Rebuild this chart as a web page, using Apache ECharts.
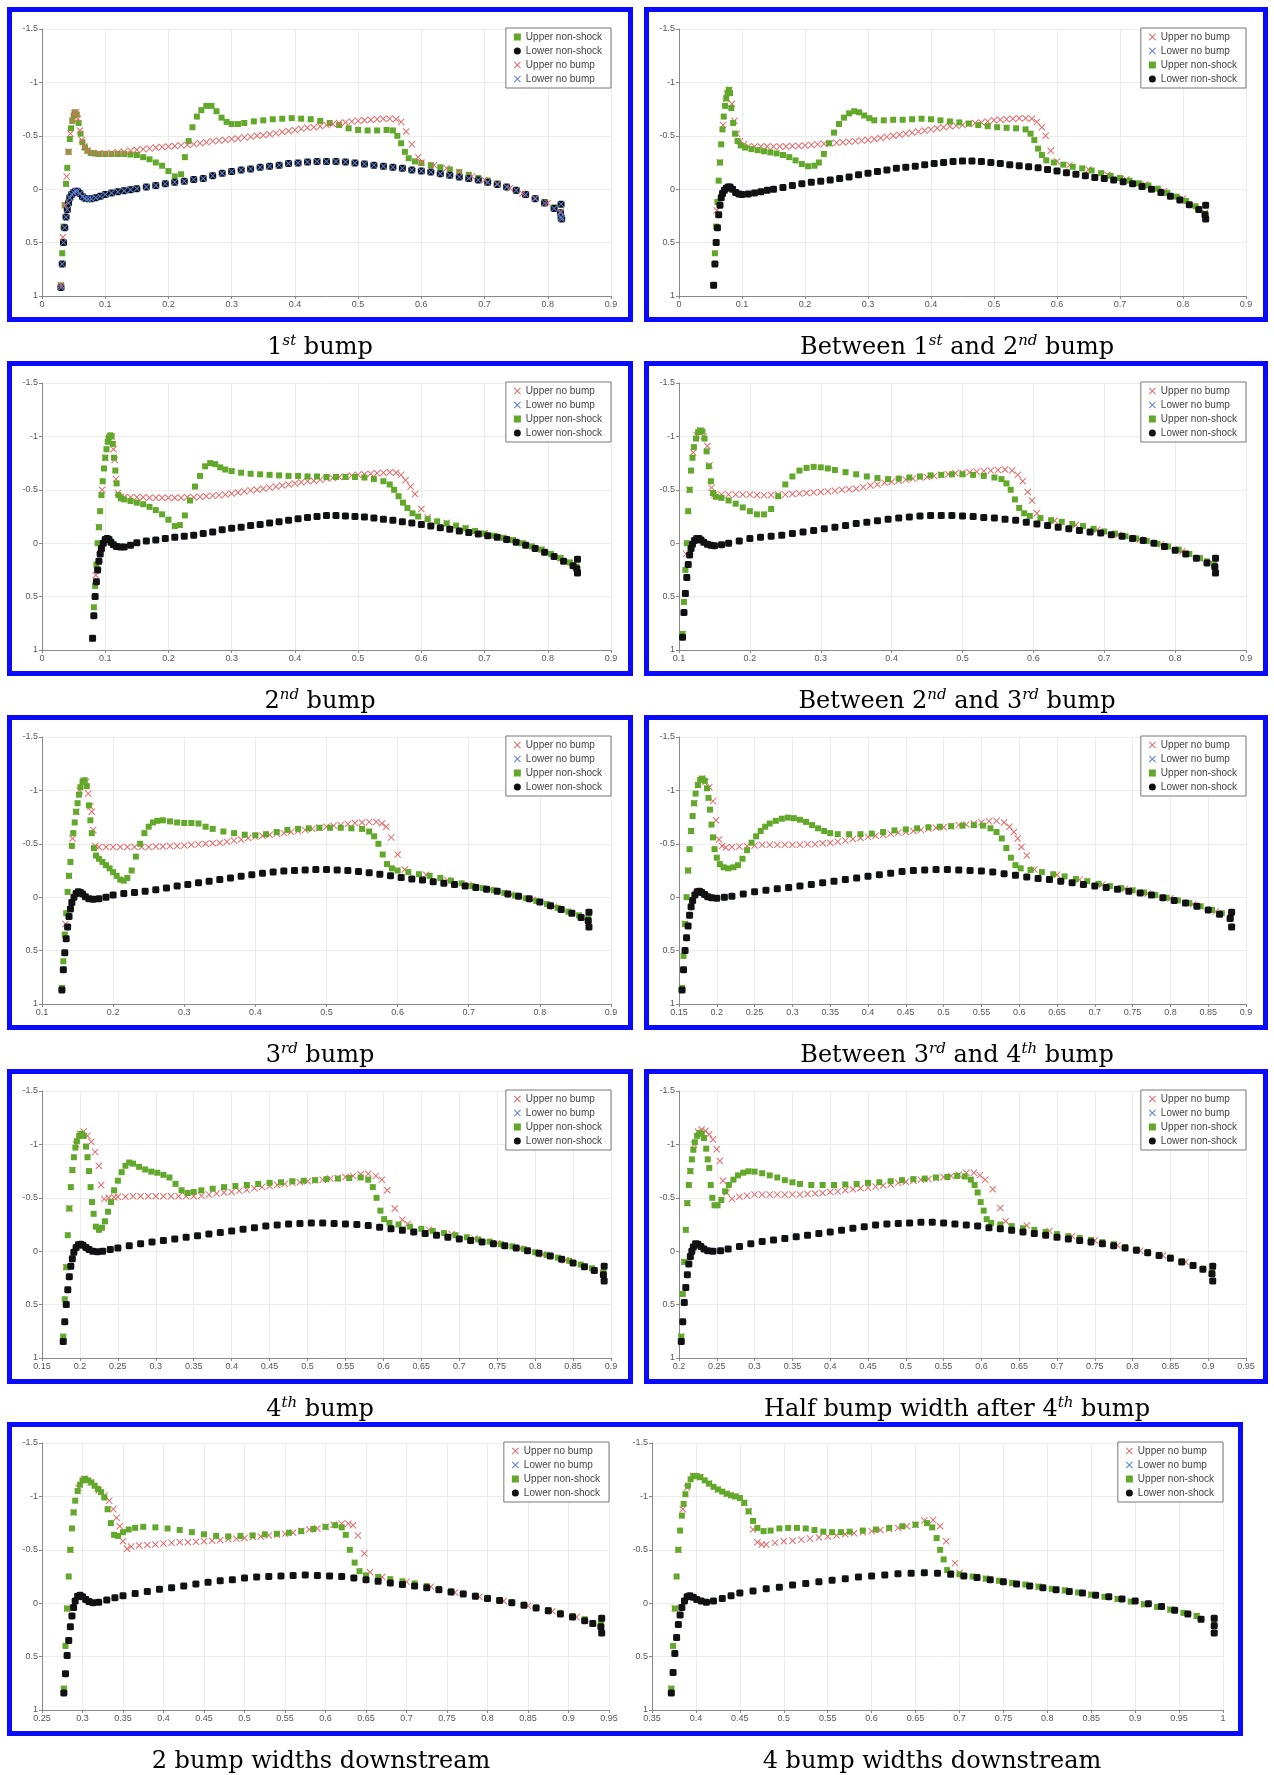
<!DOCTYPE html>
<html>
<head>
<meta charset="utf-8">
<script src="https://cdn.jsdelivr.net/npm/echarts@6/dist/echarts.min.js"></script>
<style>
html,body{margin:0;padding:0;background:#fff;}
#chart{width:1274px;height:1775px;}
</style>
</head>
<body>
<div id="chart"></div>
<script>
// Cp distributions, [x, Cp]. Lower "no bump" sits exactly
// under the lower "non-shock" points in every panel, so it reuses the same list.

// ---- 1st bump
var upperNonShock1 = [[0.030,0.9],[0.032,0.6],[0.034,0.35],[0.036,0.15],[0.038,-0.05],[0.040,-0.2],[0.042,-0.35],[0.044,-0.47],[0.046,-0.57],[0.048,-0.64],[0.050,-0.69],[0.052,-0.72],[0.055,-0.7],[0.058,-0.62],[0.061,-0.52],[0.064,-0.44],[0.068,-0.39],[0.072,-0.36],[0.077,-0.34],[0.083,-0.335],[0.09,-0.33],[0.10,-0.33],[0.11,-0.33],[0.12,-0.33],[0.13,-0.33],[0.14,-0.325],[0.15,-0.32],[0.16,-0.3],[0.17,-0.28],[0.18,-0.25],[0.19,-0.22],[0.20,-0.17],[0.21,-0.12],[0.22,-0.14],[0.226,-0.3],[0.232,-0.45],[0.238,-0.58],[0.245,-0.68],[0.252,-0.74],[0.26,-0.78],[0.268,-0.78],[0.276,-0.73],[0.284,-0.67],[0.292,-0.63],[0.30,-0.61],[0.31,-0.61],[0.32,-0.62],[0.335,-0.635],[0.35,-0.645],[0.365,-0.655],[0.38,-0.66],[0.395,-0.665],[0.41,-0.66],[0.425,-0.655],[0.44,-0.64],[0.455,-0.62],[0.47,-0.6],[0.485,-0.57],[0.50,-0.555],[0.515,-0.55],[0.53,-0.55],[0.545,-0.555],[0.555,-0.55],[0.562,-0.5],[0.568,-0.43],[0.574,-0.35],[0.58,-0.29],[0.59,-0.26],[0.60,-0.245],[0.615,-0.225],[0.63,-0.205],[0.645,-0.185],[0.66,-0.16],[0.675,-0.135],[0.69,-0.105],[0.705,-0.08],[0.72,-0.055],[0.735,-0.02],[0.75,0.015],[0.765,0.05],[0.78,0.085],[0.795,0.12],[0.81,0.17],[0.82,0.22]];
var lowerNonShock1 = [[0.030,0.92],[0.032,0.7],[0.034,0.5],[0.036,0.36],[0.038,0.26],[0.040,0.19],[0.042,0.13],[0.044,0.08],[0.047,0.05],[0.050,0.03],[0.053,0.02],[0.056,0.02],[0.060,0.04],[0.064,0.07],[0.068,0.085],[0.073,0.09],[0.078,0.09],[0.085,0.08],[0.092,0.065],[0.10,0.05],[0.11,0.035],[0.12,0.025],[0.13,0.015],[0.14,0.005],[0.15,-0.005],[0.165,-0.02],[0.18,-0.035],[0.195,-0.05],[0.21,-0.065],[0.225,-0.075],[0.24,-0.09],[0.255,-0.1],[0.27,-0.125],[0.285,-0.15],[0.30,-0.165],[0.315,-0.18],[0.33,-0.19],[0.345,-0.205],[0.36,-0.215],[0.375,-0.225],[0.39,-0.24],[0.405,-0.245],[0.42,-0.255],[0.435,-0.26],[0.45,-0.26],[0.465,-0.26],[0.48,-0.255],[0.495,-0.245],[0.51,-0.235],[0.525,-0.225],[0.54,-0.215],[0.555,-0.205],[0.57,-0.195],[0.585,-0.18],[0.60,-0.17],[0.615,-0.16],[0.63,-0.145],[0.645,-0.13],[0.66,-0.115],[0.675,-0.1],[0.69,-0.085],[0.705,-0.065],[0.72,-0.045],[0.735,-0.02],[0.75,0.01],[0.765,0.05],[0.78,0.09],[0.795,0.13],[0.81,0.18],[0.82,0.22],[0.821,0.14],[0.821,0.26],[0.822,0.28]];
var upperNoBump1 = [[0.030,0.9],[0.033,0.45],[0.036,0.15],[0.039,-0.12],[0.042,-0.35],[0.045,-0.52],[0.048,-0.64],[0.051,-0.71],[0.054,-0.72],[0.057,-0.66],[0.060,-0.55],[0.063,-0.46],[0.067,-0.4],[0.072,-0.36],[0.08,-0.34],[0.09,-0.335],[0.10,-0.335],[0.11,-0.34],[0.12,-0.345],[0.13,-0.35],[0.14,-0.36],[0.15,-0.37],[0.16,-0.375],[0.17,-0.38],[0.18,-0.39],[0.19,-0.395],[0.20,-0.4],[0.21,-0.405],[0.22,-0.41],[0.23,-0.415],[0.24,-0.42],[0.25,-0.43],[0.26,-0.44],[0.27,-0.45],[0.28,-0.455],[0.29,-0.46],[0.30,-0.47],[0.31,-0.475],[0.32,-0.485],[0.33,-0.49],[0.34,-0.5],[0.35,-0.505],[0.36,-0.515],[0.37,-0.525],[0.38,-0.535],[0.39,-0.545],[0.40,-0.555],[0.41,-0.565],[0.42,-0.575],[0.43,-0.58],[0.44,-0.59],[0.45,-0.6],[0.46,-0.61],[0.47,-0.62],[0.48,-0.625],[0.49,-0.635],[0.50,-0.64],[0.51,-0.645],[0.52,-0.65],[0.53,-0.655],[0.54,-0.66],[0.55,-0.66],[0.56,-0.655],[0.568,-0.63],[0.576,-0.54],[0.585,-0.42],[0.595,-0.3],[0.60,-0.25],[0.62,-0.225],[0.64,-0.195],[0.66,-0.16],[0.68,-0.12],[0.70,-0.085],[0.72,-0.05],[0.74,-0.01],[0.76,0.04],[0.78,0.085],[0.80,0.13],[0.82,0.21]];
var lowerNoBump1 = lowerNonShock1;

// ---- between 1st and 2nd bump
var upperNonShock2 = [[0.055,0.9],[0.057,0.6],[0.059,0.35],[0.061,0.12],[0.063,-0.08],[0.065,-0.25],[0.067,-0.42],[0.069,-0.56],[0.071,-0.68],[0.073,-0.78],[0.075,-0.85],[0.077,-0.9],[0.079,-0.93],[0.081,-0.9],[0.083,-0.76],[0.086,-0.62],[0.089,-0.52],[0.093,-0.45],[0.098,-0.41],[0.105,-0.39],[0.115,-0.375],[0.125,-0.365],[0.135,-0.355],[0.145,-0.345],[0.155,-0.335],[0.165,-0.32],[0.175,-0.3],[0.185,-0.27],[0.195,-0.235],[0.205,-0.215],[0.215,-0.22],[0.222,-0.25],[0.23,-0.33],[0.238,-0.43],[0.246,-0.53],[0.254,-0.61],[0.262,-0.67],[0.27,-0.71],[0.278,-0.73],[0.286,-0.72],[0.294,-0.69],[0.302,-0.665],[0.31,-0.645],[0.325,-0.645],[0.34,-0.65],[0.355,-0.65],[0.37,-0.655],[0.385,-0.66],[0.40,-0.655],[0.415,-0.645],[0.43,-0.635],[0.445,-0.625],[0.46,-0.615],[0.475,-0.6],[0.49,-0.59],[0.505,-0.58],[0.52,-0.575],[0.535,-0.57],[0.55,-0.56],[0.558,-0.52],[0.564,-0.46],[0.57,-0.38],[0.576,-0.32],[0.583,-0.27],[0.595,-0.25],[0.61,-0.23],[0.625,-0.21],[0.64,-0.195],[0.655,-0.175],[0.67,-0.15],[0.685,-0.125],[0.70,-0.105],[0.715,-0.08],[0.73,-0.055],[0.745,-0.035],[0.76,-0.005],[0.775,0.035],[0.79,0.07],[0.805,0.11],[0.82,0.16],[0.835,0.23]];
var lowerNonShock2 = [[0.055,0.9],[0.057,0.7],[0.059,0.5],[0.061,0.36],[0.063,0.24],[0.065,0.15],[0.067,0.08],[0.069,0.04],[0.072,0.01],[0.075,-0.01],[0.078,-0.02],[0.081,-0.02],[0.085,0.0],[0.09,0.03],[0.095,0.045],[0.10,0.05],[0.11,0.045],[0.12,0.035],[0.13,0.025],[0.14,0.01],[0.15,0.0],[0.165,-0.015],[0.18,-0.035],[0.195,-0.05],[0.21,-0.065],[0.225,-0.075],[0.24,-0.085],[0.255,-0.1],[0.27,-0.115],[0.285,-0.135],[0.30,-0.15],[0.315,-0.165],[0.33,-0.18],[0.345,-0.195],[0.36,-0.205],[0.375,-0.215],[0.39,-0.23],[0.405,-0.24],[0.42,-0.25],[0.435,-0.26],[0.45,-0.265],[0.465,-0.265],[0.48,-0.26],[0.495,-0.25],[0.51,-0.24],[0.525,-0.23],[0.54,-0.22],[0.555,-0.21],[0.57,-0.2],[0.585,-0.185],[0.60,-0.17],[0.615,-0.155],[0.63,-0.14],[0.645,-0.125],[0.66,-0.11],[0.675,-0.1],[0.69,-0.085],[0.705,-0.07],[0.72,-0.05],[0.735,-0.025],[0.75,0.0],[0.765,0.03],[0.78,0.065],[0.795,0.1],[0.81,0.145],[0.825,0.19],[0.835,0.24],[0.836,0.15],[0.836,0.28]];
var upperNoBump2 = [[0.055,0.9],[0.06,0.2],[0.065,-0.25],[0.07,-0.6],[0.075,-0.85],[0.08,-0.93],[0.084,-0.8],[0.088,-0.64],[0.092,-0.52],[0.097,-0.45],[0.103,-0.42],[0.11,-0.4],[0.12,-0.4],[0.13,-0.4],[0.14,-0.4],[0.15,-0.4],[0.16,-0.4],[0.17,-0.4],[0.18,-0.405],[0.19,-0.405],[0.20,-0.41],[0.21,-0.415],[0.22,-0.42],[0.23,-0.425],[0.24,-0.43],[0.25,-0.435],[0.26,-0.44],[0.27,-0.445],[0.28,-0.45],[0.29,-0.455],[0.30,-0.46],[0.31,-0.47],[0.32,-0.48],[0.33,-0.49],[0.34,-0.5],[0.35,-0.51],[0.36,-0.52],[0.37,-0.53],[0.38,-0.54],[0.39,-0.55],[0.40,-0.56],[0.41,-0.57],[0.42,-0.58],[0.43,-0.59],[0.44,-0.595],[0.45,-0.6],[0.46,-0.61],[0.47,-0.62],[0.48,-0.625],[0.49,-0.635],[0.50,-0.645],[0.51,-0.65],[0.52,-0.655],[0.53,-0.66],[0.54,-0.665],[0.55,-0.665],[0.56,-0.66],[0.568,-0.63],[0.576,-0.58],[0.582,-0.5],[0.59,-0.36],[0.60,-0.26],[0.62,-0.225],[0.65,-0.185],[0.68,-0.135],[0.71,-0.09],[0.74,-0.045],[0.77,0.02],[0.80,0.09],[0.835,0.22]];
var lowerNoBump2 = lowerNonShock2;

// ---- 2nd bump
var upperNonShock3 = [[0.080,0.89],[0.082,0.6],[0.084,0.4],[0.086,0.2],[0.088,0.0],[0.090,-0.15],[0.092,-0.3],[0.094,-0.45],[0.096,-0.58],[0.098,-0.7],[0.100,-0.8],[0.102,-0.88],[0.104,-0.95],[0.106,-0.99],[0.108,-1.01],[0.110,-1.0],[0.112,-0.93],[0.114,-0.8],[0.116,-0.68],[0.118,-0.56],[0.121,-0.45],[0.125,-0.42],[0.13,-0.41],[0.14,-0.395],[0.15,-0.38],[0.16,-0.365],[0.17,-0.34],[0.18,-0.31],[0.19,-0.27],[0.20,-0.22],[0.21,-0.16],[0.218,-0.17],[0.226,-0.26],[0.234,-0.4],[0.242,-0.53],[0.25,-0.63],[0.258,-0.72],[0.266,-0.75],[0.274,-0.74],[0.282,-0.71],[0.29,-0.69],[0.30,-0.675],[0.315,-0.66],[0.33,-0.65],[0.345,-0.645],[0.36,-0.64],[0.375,-0.635],[0.39,-0.63],[0.405,-0.63],[0.42,-0.625],[0.435,-0.625],[0.45,-0.62],[0.465,-0.62],[0.48,-0.62],[0.495,-0.62],[0.51,-0.615],[0.525,-0.6],[0.54,-0.58],[0.55,-0.55],[0.557,-0.5],[0.564,-0.44],[0.571,-0.38],[0.578,-0.33],[0.586,-0.28],[0.595,-0.25],[0.61,-0.225],[0.625,-0.205],[0.64,-0.185],[0.655,-0.165],[0.67,-0.14],[0.685,-0.115],[0.70,-0.09],[0.715,-0.07],[0.73,-0.05],[0.745,-0.03],[0.76,0.0],[0.775,0.03],[0.79,0.06],[0.805,0.1],[0.82,0.14],[0.835,0.18],[0.845,0.22]];
var lowerNonShock3 = [[0.080,0.89],[0.082,0.68],[0.084,0.5],[0.086,0.36],[0.088,0.25],[0.090,0.17],[0.092,0.1],[0.094,0.05],[0.097,0.0],[0.100,-0.035],[0.103,-0.045],[0.106,-0.035],[0.109,-0.01],[0.113,0.015],[0.118,0.03],[0.124,0.035],[0.13,0.035],[0.14,0.02],[0.15,-0.005],[0.165,-0.02],[0.18,-0.03],[0.195,-0.045],[0.21,-0.055],[0.225,-0.065],[0.24,-0.075],[0.255,-0.09],[0.27,-0.105],[0.285,-0.125],[0.30,-0.14],[0.315,-0.15],[0.33,-0.165],[0.345,-0.175],[0.36,-0.19],[0.375,-0.2],[0.39,-0.215],[0.405,-0.23],[0.42,-0.24],[0.435,-0.25],[0.45,-0.26],[0.465,-0.26],[0.48,-0.255],[0.495,-0.25],[0.51,-0.245],[0.525,-0.235],[0.54,-0.225],[0.555,-0.215],[0.57,-0.2],[0.585,-0.19],[0.60,-0.175],[0.615,-0.16],[0.63,-0.145],[0.645,-0.13],[0.66,-0.115],[0.675,-0.1],[0.69,-0.085],[0.705,-0.07],[0.72,-0.055],[0.735,-0.035],[0.75,-0.01],[0.765,0.02],[0.78,0.05],[0.795,0.085],[0.81,0.125],[0.825,0.17],[0.84,0.21],[0.846,0.24],[0.847,0.15],[0.847,0.28]];
var upperNoBump3 = [[0.080,0.89],[0.085,0.3],[0.09,-0.15],[0.095,-0.5],[0.10,-0.8],[0.105,-0.97],[0.11,-1.0],[0.113,-0.88],[0.115,-0.78],[0.117,-0.6],[0.12,-0.47],[0.125,-0.435],[0.13,-0.43],[0.14,-0.43],[0.15,-0.43],[0.16,-0.43],[0.17,-0.425],[0.18,-0.425],[0.19,-0.425],[0.20,-0.425],[0.21,-0.425],[0.22,-0.425],[0.23,-0.43],[0.24,-0.43],[0.25,-0.435],[0.26,-0.44],[0.27,-0.445],[0.28,-0.45],[0.29,-0.455],[0.30,-0.465],[0.31,-0.475],[0.32,-0.485],[0.33,-0.495],[0.34,-0.5],[0.35,-0.51],[0.36,-0.52],[0.37,-0.53],[0.38,-0.54],[0.39,-0.55],[0.40,-0.56],[0.41,-0.57],[0.42,-0.58],[0.43,-0.585],[0.44,-0.595],[0.45,-0.605],[0.46,-0.61],[0.47,-0.62],[0.48,-0.625],[0.49,-0.635],[0.50,-0.64],[0.51,-0.645],[0.52,-0.65],[0.53,-0.655],[0.54,-0.66],[0.55,-0.665],[0.56,-0.66],[0.568,-0.64],[0.575,-0.59],[0.583,-0.53],[0.59,-0.46],[0.60,-0.32],[0.61,-0.24],[0.64,-0.19],[0.67,-0.14],[0.70,-0.09],[0.73,-0.05],[0.76,0.0],[0.79,0.06],[0.82,0.14],[0.845,0.22]];
var lowerNoBump3 = lowerNonShock3;

// ---- between 2nd and 3rd bump
var upperNonShock4 = [[0.105,0.85],[0.107,0.55],[0.109,0.25],[0.111,0.0],[0.113,-0.3],[0.115,-0.5],[0.117,-0.68],[0.119,-0.8],[0.121,-0.9],[0.124,-0.98],[0.127,-1.04],[0.130,-1.055],[0.133,-1.045],[0.136,-0.98],[0.139,-0.86],[0.142,-0.72],[0.145,-0.58],[0.148,-0.47],[0.152,-0.435],[0.16,-0.425],[0.17,-0.4],[0.18,-0.37],[0.19,-0.335],[0.20,-0.3],[0.21,-0.27],[0.22,-0.27],[0.23,-0.32],[0.24,-0.44],[0.25,-0.55],[0.26,-0.625],[0.27,-0.68],[0.28,-0.705],[0.29,-0.715],[0.30,-0.71],[0.31,-0.7],[0.32,-0.685],[0.335,-0.665],[0.35,-0.645],[0.365,-0.625],[0.38,-0.61],[0.395,-0.6],[0.41,-0.605],[0.425,-0.615],[0.44,-0.625],[0.455,-0.635],[0.47,-0.64],[0.485,-0.645],[0.50,-0.645],[0.515,-0.64],[0.53,-0.63],[0.545,-0.615],[0.555,-0.6],[0.562,-0.56],[0.568,-0.5],[0.574,-0.41],[0.58,-0.33],[0.587,-0.28],[0.595,-0.255],[0.61,-0.235],[0.625,-0.215],[0.64,-0.2],[0.655,-0.18],[0.67,-0.16],[0.685,-0.135],[0.70,-0.11],[0.715,-0.09],[0.73,-0.065],[0.745,-0.045],[0.76,-0.02],[0.775,0.005],[0.79,0.03],[0.805,0.06],[0.82,0.1],[0.835,0.14],[0.845,0.17],[0.855,0.2]];
var lowerNonShock4 = [[0.105,0.88],[0.107,0.65],[0.109,0.47],[0.111,0.32],[0.113,0.2],[0.115,0.11],[0.117,0.05],[0.119,0.01],[0.122,-0.025],[0.125,-0.045],[0.128,-0.045],[0.131,-0.03],[0.135,-0.01],[0.14,0.01],[0.145,0.02],[0.15,0.025],[0.16,0.015],[0.17,0.0],[0.185,-0.02],[0.20,-0.045],[0.215,-0.055],[0.23,-0.065],[0.245,-0.075],[0.26,-0.09],[0.275,-0.105],[0.29,-0.12],[0.305,-0.135],[0.32,-0.15],[0.335,-0.165],[0.35,-0.185],[0.365,-0.195],[0.38,-0.21],[0.395,-0.225],[0.41,-0.235],[0.425,-0.245],[0.44,-0.255],[0.455,-0.26],[0.47,-0.26],[0.485,-0.26],[0.50,-0.255],[0.515,-0.25],[0.53,-0.24],[0.545,-0.235],[0.56,-0.225],[0.575,-0.215],[0.59,-0.195],[0.605,-0.18],[0.62,-0.165],[0.635,-0.15],[0.65,-0.135],[0.665,-0.12],[0.68,-0.105],[0.695,-0.095],[0.71,-0.08],[0.725,-0.065],[0.74,-0.045],[0.755,-0.025],[0.77,0.0],[0.785,0.03],[0.80,0.065],[0.815,0.1],[0.83,0.14],[0.845,0.185],[0.856,0.22],[0.857,0.14],[0.857,0.28]];
var upperNoBump4 = [[0.105,0.85],[0.11,0.1],[0.115,-0.5],[0.12,-0.85],[0.125,-1.01],[0.13,-1.055],[0.135,-1.0],[0.14,-0.91],[0.143,-0.73],[0.146,-0.52],[0.15,-0.455],[0.16,-0.455],[0.17,-0.455],[0.18,-0.455],[0.19,-0.455],[0.20,-0.455],[0.21,-0.452],[0.22,-0.45],[0.23,-0.452],[0.24,-0.455],[0.25,-0.455],[0.26,-0.46],[0.27,-0.465],[0.28,-0.47],[0.29,-0.475],[0.30,-0.48],[0.31,-0.485],[0.32,-0.49],[0.33,-0.5],[0.34,-0.505],[0.35,-0.51],[0.36,-0.525],[0.37,-0.54],[0.38,-0.55],[0.39,-0.565],[0.40,-0.575],[0.41,-0.585],[0.42,-0.595],[0.43,-0.605],[0.44,-0.615],[0.45,-0.62],[0.46,-0.63],[0.47,-0.64],[0.48,-0.645],[0.49,-0.655],[0.50,-0.66],[0.51,-0.665],[0.52,-0.67],[0.53,-0.675],[0.54,-0.68],[0.55,-0.685],[0.56,-0.69],[0.57,-0.68],[0.578,-0.64],[0.585,-0.58],[0.592,-0.48],[0.598,-0.4],[0.605,-0.28],[0.63,-0.21],[0.66,-0.17],[0.69,-0.125],[0.72,-0.08],[0.75,-0.035],[0.78,0.01],[0.81,0.075],[0.835,0.14],[0.855,0.2]];
var lowerNoBump4 = lowerNonShock4;

// ---- 3rd bump
var upperNonShock5 = [[0.128,0.85],[0.130,0.6],[0.132,0.35],[0.134,0.15],[0.136,-0.05],[0.138,-0.2],[0.140,-0.33],[0.142,-0.48],[0.144,-0.6],[0.146,-0.7],[0.148,-0.8],[0.150,-0.88],[0.152,-0.96],[0.154,-1.03],[0.157,-1.08],[0.160,-1.095],[0.163,-1.04],[0.166,-0.86],[0.168,-0.72],[0.170,-0.6],[0.173,-0.46],[0.176,-0.39],[0.18,-0.36],[0.185,-0.33],[0.19,-0.3],[0.195,-0.27],[0.20,-0.235],[0.205,-0.2],[0.21,-0.165],[0.215,-0.155],[0.22,-0.18],[0.226,-0.25],[0.232,-0.38],[0.238,-0.5],[0.244,-0.6],[0.25,-0.66],[0.256,-0.7],[0.262,-0.715],[0.27,-0.72],[0.28,-0.71],[0.29,-0.7],[0.30,-0.695],[0.31,-0.695],[0.32,-0.69],[0.33,-0.66],[0.34,-0.64],[0.355,-0.615],[0.37,-0.6],[0.385,-0.585],[0.40,-0.58],[0.415,-0.59],[0.43,-0.61],[0.445,-0.63],[0.46,-0.64],[0.475,-0.645],[0.49,-0.65],[0.505,-0.65],[0.52,-0.65],[0.535,-0.645],[0.55,-0.64],[0.56,-0.615],[0.567,-0.57],[0.573,-0.5],[0.579,-0.4],[0.585,-0.31],[0.592,-0.27],[0.60,-0.25],[0.615,-0.235],[0.63,-0.215],[0.645,-0.2],[0.66,-0.18],[0.675,-0.155],[0.69,-0.13],[0.705,-0.105],[0.72,-0.085],[0.735,-0.065],[0.75,-0.04],[0.765,-0.015],[0.78,0.01],[0.795,0.035],[0.81,0.065],[0.825,0.1],[0.84,0.135],[0.855,0.17],[0.868,0.2]];
var lowerNonShock5 = [[0.128,0.87],[0.130,0.68],[0.132,0.52],[0.134,0.39],[0.136,0.28],[0.138,0.18],[0.140,0.11],[0.142,0.05],[0.145,0.0],[0.148,-0.035],[0.151,-0.05],[0.154,-0.045],[0.157,-0.03],[0.161,-0.005],[0.166,0.015],[0.172,0.02],[0.18,0.015],[0.19,0.0],[0.20,-0.02],[0.215,-0.035],[0.23,-0.045],[0.245,-0.055],[0.26,-0.07],[0.275,-0.085],[0.29,-0.105],[0.305,-0.12],[0.32,-0.135],[0.335,-0.15],[0.35,-0.165],[0.365,-0.18],[0.38,-0.195],[0.395,-0.21],[0.41,-0.225],[0.425,-0.235],[0.44,-0.245],[0.455,-0.25],[0.47,-0.255],[0.485,-0.26],[0.50,-0.26],[0.515,-0.255],[0.53,-0.25],[0.545,-0.24],[0.56,-0.23],[0.575,-0.215],[0.59,-0.2],[0.605,-0.185],[0.62,-0.17],[0.635,-0.16],[0.65,-0.145],[0.665,-0.13],[0.68,-0.12],[0.695,-0.105],[0.71,-0.09],[0.725,-0.075],[0.74,-0.055],[0.755,-0.03],[0.77,-0.01],[0.785,0.015],[0.80,0.045],[0.815,0.08],[0.83,0.115],[0.845,0.15],[0.858,0.19],[0.868,0.22],[0.869,0.14],[0.869,0.28]];
var upperNoBump5 = [[0.128,0.85],[0.133,0.25],[0.138,-0.2],[0.143,-0.55],[0.148,-0.8],[0.153,-1.0],[0.158,-1.09],[0.162,-1.08],[0.165,-0.97],[0.168,-0.85],[0.170,-0.8],[0.172,-0.63],[0.175,-0.48],[0.18,-0.47],[0.19,-0.47],[0.20,-0.47],[0.21,-0.47],[0.22,-0.47],[0.23,-0.47],[0.24,-0.47],[0.25,-0.47],[0.26,-0.475],[0.27,-0.475],[0.28,-0.48],[0.29,-0.48],[0.30,-0.485],[0.31,-0.49],[0.32,-0.495],[0.33,-0.5],[0.34,-0.505],[0.35,-0.51],[0.36,-0.52],[0.37,-0.53],[0.38,-0.54],[0.39,-0.555],[0.40,-0.565],[0.41,-0.575],[0.42,-0.585],[0.43,-0.595],[0.44,-0.6],[0.45,-0.61],[0.46,-0.62],[0.47,-0.63],[0.48,-0.64],[0.49,-0.65],[0.50,-0.66],[0.51,-0.67],[0.52,-0.675],[0.53,-0.685],[0.54,-0.695],[0.55,-0.7],[0.56,-0.705],[0.57,-0.705],[0.578,-0.69],[0.584,-0.66],[0.591,-0.56],[0.60,-0.4],[0.61,-0.26],[0.64,-0.21],[0.67,-0.16],[0.70,-0.115],[0.73,-0.07],[0.76,-0.025],[0.79,0.025],[0.82,0.09],[0.845,0.15],[0.868,0.2]];
var lowerNoBump5 = lowerNonShock5;

// ---- between 3rd and 4th bump
var upperNonShock6 = [[0.154,0.85],[0.156,0.55],[0.158,0.25],[0.160,0.0],[0.162,-0.25],[0.164,-0.45],[0.166,-0.62],[0.168,-0.76],[0.170,-0.88],[0.172,-0.97],[0.175,-1.05],[0.178,-1.1],[0.181,-1.11],[0.184,-1.09],[0.187,-1.02],[0.189,-0.93],[0.191,-0.82],[0.193,-0.68],[0.195,-0.56],[0.197,-0.45],[0.200,-0.37],[0.204,-0.31],[0.209,-0.28],[0.215,-0.27],[0.222,-0.28],[0.228,-0.3],[0.234,-0.36],[0.24,-0.44],[0.246,-0.51],[0.252,-0.57],[0.258,-0.62],[0.264,-0.66],[0.27,-0.69],[0.278,-0.715],[0.286,-0.735],[0.294,-0.745],[0.302,-0.74],[0.31,-0.725],[0.318,-0.705],[0.326,-0.675],[0.334,-0.645],[0.342,-0.62],[0.35,-0.6],[0.36,-0.59],[0.375,-0.59],[0.39,-0.59],[0.405,-0.595],[0.42,-0.61],[0.435,-0.625],[0.45,-0.635],[0.465,-0.645],[0.48,-0.655],[0.495,-0.66],[0.51,-0.665],[0.525,-0.67],[0.54,-0.675],[0.552,-0.67],[0.562,-0.645],[0.57,-0.61],[0.577,-0.55],[0.583,-0.46],[0.589,-0.37],[0.595,-0.3],[0.602,-0.27],[0.615,-0.255],[0.63,-0.235],[0.645,-0.215],[0.66,-0.195],[0.675,-0.17],[0.69,-0.15],[0.705,-0.125],[0.72,-0.105],[0.735,-0.085],[0.75,-0.065],[0.765,-0.045],[0.78,-0.02],[0.795,0.005],[0.81,0.03],[0.825,0.055],[0.84,0.085],[0.855,0.12],[0.868,0.15],[0.88,0.185]];
var lowerNonShock6 = [[0.154,0.87],[0.156,0.68],[0.158,0.5],[0.160,0.38],[0.162,0.27],[0.164,0.17],[0.166,0.09],[0.168,0.03],[0.171,-0.02],[0.174,-0.05],[0.177,-0.055],[0.180,-0.045],[0.184,-0.025],[0.188,-0.005],[0.193,0.005],[0.20,0.01],[0.21,0.0],[0.22,-0.01],[0.235,-0.03],[0.25,-0.05],[0.265,-0.065],[0.28,-0.08],[0.295,-0.09],[0.31,-0.105],[0.325,-0.12],[0.34,-0.135],[0.355,-0.15],[0.37,-0.165],[0.385,-0.18],[0.40,-0.195],[0.415,-0.21],[0.43,-0.225],[0.445,-0.24],[0.46,-0.25],[0.475,-0.255],[0.49,-0.26],[0.505,-0.26],[0.52,-0.255],[0.535,-0.25],[0.55,-0.245],[0.565,-0.235],[0.58,-0.22],[0.595,-0.205],[0.61,-0.19],[0.625,-0.175],[0.64,-0.165],[0.655,-0.15],[0.67,-0.135],[0.685,-0.12],[0.70,-0.105],[0.715,-0.09],[0.73,-0.075],[0.745,-0.055],[0.76,-0.04],[0.775,-0.02],[0.79,0.005],[0.805,0.03],[0.82,0.055],[0.835,0.085],[0.85,0.12],[0.865,0.16],[0.879,0.2],[0.881,0.14],[0.881,0.28]];
var upperNoBump6 = [[0.154,0.85],[0.158,0.25],[0.162,-0.25],[0.166,-0.62],[0.17,-0.88],[0.175,-1.05],[0.18,-1.11],[0.185,-1.08],[0.19,-1.03],[0.195,-0.9],[0.199,-0.72],[0.203,-0.54],[0.207,-0.48],[0.212,-0.465],[0.22,-0.47],[0.23,-0.475],[0.24,-0.48],[0.25,-0.485],[0.26,-0.49],[0.27,-0.49],[0.28,-0.49],[0.29,-0.49],[0.30,-0.49],[0.31,-0.49],[0.32,-0.495],[0.33,-0.495],[0.34,-0.505],[0.35,-0.51],[0.36,-0.52],[0.37,-0.53],[0.38,-0.545],[0.39,-0.555],[0.40,-0.565],[0.41,-0.575],[0.42,-0.585],[0.43,-0.595],[0.44,-0.605],[0.45,-0.61],[0.46,-0.62],[0.47,-0.63],[0.48,-0.64],[0.49,-0.65],[0.50,-0.655],[0.51,-0.665],[0.52,-0.675],[0.53,-0.68],[0.54,-0.69],[0.55,-0.7],[0.56,-0.71],[0.57,-0.715],[0.58,-0.7],[0.587,-0.66],[0.593,-0.61],[0.598,-0.55],[0.603,-0.47],[0.61,-0.39],[0.62,-0.26],[0.65,-0.21],[0.68,-0.165],[0.71,-0.12],[0.74,-0.08],[0.77,-0.035],[0.80,0.01],[0.83,0.065],[0.86,0.135],[0.88,0.185]];
var lowerNoBump6 = lowerNonShock6;

// ---- 4th bump
var upperNonShock7 = [[0.178,0.8],[0.180,0.45],[0.182,0.15],[0.184,-0.15],[0.186,-0.4],[0.188,-0.6],[0.190,-0.76],[0.192,-0.88],[0.194,-0.97],[0.196,-1.03],[0.199,-1.08],[0.202,-1.1],[0.205,-1.08],[0.208,-0.98],[0.210,-0.88],[0.212,-0.75],[0.214,-0.6],[0.216,-0.46],[0.218,-0.35],[0.221,-0.23],[0.225,-0.2],[0.229,-0.22],[0.233,-0.28],[0.237,-0.37],[0.241,-0.46],[0.245,-0.57],[0.25,-0.66],[0.255,-0.74],[0.26,-0.8],[0.265,-0.83],[0.27,-0.82],[0.278,-0.79],[0.286,-0.765],[0.294,-0.745],[0.302,-0.735],[0.31,-0.715],[0.318,-0.69],[0.326,-0.63],[0.334,-0.57],[0.342,-0.545],[0.35,-0.555],[0.36,-0.57],[0.375,-0.585],[0.39,-0.6],[0.405,-0.61],[0.42,-0.62],[0.435,-0.63],[0.45,-0.64],[0.465,-0.645],[0.48,-0.655],[0.495,-0.66],[0.51,-0.665],[0.525,-0.675],[0.54,-0.68],[0.555,-0.685],[0.57,-0.69],[0.58,-0.67],[0.586,-0.6],[0.591,-0.5],[0.596,-0.38],[0.601,-0.3],[0.608,-0.265],[0.62,-0.25],[0.635,-0.23],[0.65,-0.21],[0.665,-0.19],[0.68,-0.17],[0.695,-0.15],[0.71,-0.13],[0.725,-0.11],[0.74,-0.09],[0.755,-0.065],[0.77,-0.045],[0.785,-0.02],[0.80,0.01],[0.815,0.035],[0.83,0.06],[0.845,0.09],[0.86,0.125],[0.875,0.16],[0.89,0.2]];
var lowerNonShock7 = [[0.178,0.845],[0.180,0.66],[0.182,0.5],[0.184,0.36],[0.186,0.24],[0.188,0.14],[0.190,0.07],[0.192,0.01],[0.195,-0.035],[0.198,-0.06],[0.201,-0.065],[0.204,-0.055],[0.208,-0.035],[0.212,-0.015],[0.217,0.0],[0.223,0.005],[0.23,0.0],[0.24,-0.015],[0.25,-0.03],[0.265,-0.05],[0.28,-0.07],[0.295,-0.085],[0.31,-0.1],[0.325,-0.115],[0.34,-0.13],[0.355,-0.145],[0.37,-0.16],[0.385,-0.175],[0.40,-0.19],[0.415,-0.205],[0.43,-0.22],[0.445,-0.235],[0.46,-0.245],[0.475,-0.255],[0.49,-0.26],[0.505,-0.265],[0.52,-0.265],[0.535,-0.26],[0.55,-0.255],[0.565,-0.25],[0.58,-0.24],[0.595,-0.225],[0.61,-0.21],[0.625,-0.195],[0.64,-0.18],[0.655,-0.165],[0.67,-0.15],[0.685,-0.13],[0.70,-0.115],[0.715,-0.1],[0.73,-0.085],[0.745,-0.07],[0.76,-0.05],[0.775,-0.03],[0.79,-0.005],[0.805,0.02],[0.82,0.045],[0.835,0.075],[0.85,0.11],[0.865,0.145],[0.878,0.18],[0.89,0.22],[0.891,0.14],[0.891,0.28]];
var upperNoBump7 = [[0.178,0.8],[0.182,0.15],[0.186,-0.4],[0.19,-0.76],[0.195,-1.0],[0.2,-1.1],[0.205,-1.12],[0.21,-1.08],[0.215,-1.025],[0.22,-0.93],[0.225,-0.8],[0.228,-0.62],[0.232,-0.49],[0.238,-0.5],[0.245,-0.505],[0.25,-0.51],[0.26,-0.51],[0.27,-0.515],[0.28,-0.515],[0.29,-0.515],[0.30,-0.515],[0.31,-0.515],[0.32,-0.515],[0.33,-0.515],[0.34,-0.515],[0.35,-0.515],[0.36,-0.52],[0.37,-0.53],[0.38,-0.54],[0.39,-0.55],[0.40,-0.555],[0.41,-0.565],[0.42,-0.575],[0.43,-0.59],[0.44,-0.6],[0.45,-0.61],[0.46,-0.62],[0.47,-0.63],[0.48,-0.64],[0.49,-0.645],[0.50,-0.655],[0.51,-0.665],[0.52,-0.67],[0.53,-0.68],[0.54,-0.685],[0.55,-0.695],[0.56,-0.705],[0.57,-0.72],[0.58,-0.725],[0.59,-0.705],[0.598,-0.67],[0.605,-0.57],[0.615,-0.4],[0.625,-0.295],[0.632,-0.255],[0.66,-0.2],[0.69,-0.16],[0.72,-0.12],[0.75,-0.075],[0.78,-0.025],[0.81,0.03],[0.84,0.085],[0.865,0.14],[0.89,0.2]];
var lowerNoBump7 = lowerNonShock7;

// ---- half bump width after 4th bump
var upperNonShock8 = [[0.203,0.8],[0.205,0.4],[0.207,0.1],[0.209,-0.2],[0.211,-0.45],[0.213,-0.62],[0.215,-0.75],[0.217,-0.86],[0.219,-0.95],[0.221,-1.02],[0.224,-1.08],[0.227,-1.105],[0.230,-1.1],[0.233,-1.06],[0.236,-0.96],[0.238,-0.86],[0.240,-0.78],[0.242,-0.62],[0.244,-0.5],[0.247,-0.43],[0.251,-0.43],[0.256,-0.48],[0.261,-0.56],[0.266,-0.62],[0.272,-0.67],[0.278,-0.71],[0.285,-0.735],[0.292,-0.748],[0.30,-0.745],[0.31,-0.73],[0.32,-0.71],[0.33,-0.69],[0.34,-0.665],[0.35,-0.645],[0.36,-0.63],[0.375,-0.62],[0.39,-0.62],[0.405,-0.62],[0.42,-0.625],[0.435,-0.63],[0.45,-0.64],[0.465,-0.645],[0.48,-0.655],[0.495,-0.665],[0.51,-0.675],[0.525,-0.68],[0.54,-0.69],[0.555,-0.695],[0.568,-0.705],[0.578,-0.7],[0.586,-0.67],[0.591,-0.62],[0.595,-0.55],[0.599,-0.46],[0.603,-0.38],[0.607,-0.3],[0.613,-0.265],[0.625,-0.25],[0.64,-0.235],[0.655,-0.215],[0.67,-0.2],[0.685,-0.18],[0.70,-0.16],[0.715,-0.14],[0.73,-0.125],[0.745,-0.105],[0.76,-0.085],[0.775,-0.065],[0.79,-0.04],[0.805,-0.015],[0.82,0.01],[0.835,0.035],[0.85,0.06],[0.865,0.095],[0.88,0.13],[0.893,0.165],[0.905,0.2]];
var lowerNonShock8 = [[0.203,0.845],[0.205,0.66],[0.207,0.48],[0.209,0.34],[0.211,0.22],[0.213,0.12],[0.215,0.05],[0.217,0.0],[0.219,-0.04],[0.222,-0.07],[0.225,-0.065],[0.229,-0.045],[0.233,-0.02],[0.238,-0.005],[0.245,0.0],[0.255,-0.005],[0.265,-0.02],[0.28,-0.045],[0.295,-0.07],[0.31,-0.09],[0.325,-0.105],[0.34,-0.12],[0.355,-0.135],[0.37,-0.15],[0.385,-0.165],[0.40,-0.18],[0.415,-0.195],[0.43,-0.215],[0.445,-0.23],[0.46,-0.245],[0.475,-0.255],[0.49,-0.26],[0.505,-0.265],[0.52,-0.27],[0.535,-0.27],[0.55,-0.265],[0.565,-0.255],[0.58,-0.245],[0.595,-0.235],[0.61,-0.22],[0.625,-0.21],[0.64,-0.195],[0.655,-0.18],[0.67,-0.165],[0.685,-0.15],[0.70,-0.13],[0.715,-0.115],[0.73,-0.1],[0.745,-0.085],[0.76,-0.07],[0.775,-0.05],[0.79,-0.03],[0.805,-0.01],[0.82,0.015],[0.835,0.04],[0.85,0.065],[0.865,0.1],[0.88,0.135],[0.893,0.17],[0.905,0.21],[0.906,0.14],[0.906,0.28]];
var upperNoBump8 = [[0.203,0.8],[0.207,0.1],[0.211,-0.45],[0.215,-0.75],[0.22,-1.0],[0.225,-1.12],[0.23,-1.14],[0.235,-1.125],[0.24,-1.095],[0.245,-1.045],[0.25,-0.955],[0.254,-0.845],[0.258,-0.66],[0.263,-0.55],[0.27,-0.49],[0.28,-0.51],[0.29,-0.52],[0.30,-0.53],[0.31,-0.53],[0.32,-0.53],[0.33,-0.53],[0.34,-0.53],[0.35,-0.53],[0.36,-0.53],[0.37,-0.535],[0.38,-0.54],[0.39,-0.545],[0.40,-0.555],[0.41,-0.56],[0.42,-0.57],[0.43,-0.58],[0.44,-0.59],[0.45,-0.595],[0.46,-0.605],[0.47,-0.615],[0.48,-0.625],[0.49,-0.64],[0.50,-0.65],[0.51,-0.66],[0.52,-0.67],[0.53,-0.675],[0.54,-0.685],[0.55,-0.695],[0.56,-0.705],[0.57,-0.715],[0.58,-0.735],[0.59,-0.735],[0.598,-0.71],[0.605,-0.67],[0.615,-0.58],[0.625,-0.405],[0.632,-0.28],[0.66,-0.24],[0.69,-0.19],[0.72,-0.14],[0.75,-0.1],[0.78,-0.055],[0.81,-0.005],[0.84,0.04],[0.87,0.1],[0.905,0.2]];
var lowerNoBump8 = lowerNonShock8;

// ---- 2 bump widths downstream
var upperNonShock9 = [[0.277,0.8],[0.279,0.4],[0.281,0.05],[0.283,-0.25],[0.285,-0.5],[0.287,-0.7],[0.289,-0.85],[0.291,-0.96],[0.294,-1.05],[0.297,-1.11],[0.30,-1.15],[0.303,-1.165],[0.307,-1.15],[0.311,-1.13],[0.315,-1.1],[0.319,-1.07],[0.323,-1.04],[0.327,-0.99],[0.331,-0.88],[0.335,-0.75],[0.339,-0.64],[0.344,-0.63],[0.35,-0.665],[0.357,-0.69],[0.365,-0.705],[0.375,-0.715],[0.39,-0.71],[0.405,-0.7],[0.42,-0.685],[0.435,-0.665],[0.45,-0.645],[0.465,-0.63],[0.48,-0.625],[0.495,-0.63],[0.51,-0.635],[0.525,-0.645],[0.54,-0.65],[0.555,-0.66],[0.57,-0.675],[0.585,-0.695],[0.60,-0.715],[0.612,-0.73],[0.62,-0.71],[0.625,-0.64],[0.63,-0.5],[0.636,-0.38],[0.642,-0.3],[0.65,-0.26],[0.665,-0.245],[0.68,-0.225],[0.695,-0.205],[0.71,-0.185],[0.725,-0.16],[0.74,-0.135],[0.755,-0.11],[0.77,-0.09],[0.785,-0.07],[0.80,-0.05],[0.815,-0.03],[0.83,-0.01],[0.845,0.015],[0.86,0.04],[0.875,0.065],[0.89,0.09],[0.905,0.12],[0.92,0.15],[0.94,0.19]];
var lowerNonShock9 = [[0.277,0.84],[0.279,0.66],[0.281,0.49],[0.283,0.35],[0.285,0.22],[0.287,0.12],[0.289,0.04],[0.291,-0.02],[0.294,-0.065],[0.297,-0.075],[0.30,-0.06],[0.304,-0.035],[0.308,-0.015],[0.313,-0.005],[0.32,-0.01],[0.33,-0.03],[0.34,-0.05],[0.35,-0.07],[0.365,-0.09],[0.38,-0.11],[0.395,-0.13],[0.41,-0.145],[0.425,-0.16],[0.44,-0.18],[0.455,-0.195],[0.47,-0.21],[0.485,-0.22],[0.50,-0.235],[0.515,-0.245],[0.53,-0.25],[0.545,-0.255],[0.56,-0.26],[0.575,-0.265],[0.59,-0.26],[0.605,-0.255],[0.62,-0.25],[0.635,-0.235],[0.65,-0.22],[0.665,-0.205],[0.68,-0.19],[0.695,-0.175],[0.71,-0.16],[0.725,-0.145],[0.74,-0.125],[0.755,-0.105],[0.77,-0.085],[0.785,-0.065],[0.80,-0.045],[0.815,-0.025],[0.83,-0.005],[0.845,0.02],[0.86,0.045],[0.875,0.07],[0.89,0.1],[0.905,0.13],[0.92,0.165],[0.93,0.19],[0.94,0.22],[0.941,0.14],[0.941,0.28]];
var upperNoBump9 = [[0.277,0.8],[0.281,0.05],[0.285,-0.5],[0.289,-0.85],[0.295,-1.08],[0.302,-1.165],[0.31,-1.13],[0.32,-1.055],[0.327,-1.01],[0.333,-0.96],[0.338,-0.88],[0.342,-0.8],[0.346,-0.72],[0.35,-0.58],[0.355,-0.51],[0.36,-0.53],[0.37,-0.54],[0.38,-0.545],[0.39,-0.55],[0.40,-0.56],[0.41,-0.565],[0.42,-0.57],[0.43,-0.57],[0.44,-0.575],[0.45,-0.58],[0.46,-0.585],[0.47,-0.59],[0.48,-0.6],[0.49,-0.605],[0.50,-0.61],[0.51,-0.62],[0.52,-0.625],[0.53,-0.635],[0.54,-0.64],[0.55,-0.65],[0.56,-0.66],[0.57,-0.675],[0.58,-0.69],[0.59,-0.7],[0.60,-0.715],[0.61,-0.735],[0.62,-0.745],[0.628,-0.745],[0.634,-0.73],[0.64,-0.635],[0.648,-0.465],[0.655,-0.29],[0.67,-0.245],[0.70,-0.2],[0.73,-0.155],[0.76,-0.1],[0.79,-0.06],[0.82,-0.02],[0.85,0.025],[0.88,0.075],[0.91,0.13],[0.94,0.19]];
var lowerNoBump9 = lowerNonShock9;

// ---- 4 bump widths downstream
var upperNonShock10 = [[0.372,0.8],[0.374,0.4],[0.376,0.05],[0.378,-0.25],[0.380,-0.5],[0.382,-0.68],[0.384,-0.82],[0.386,-0.93],[0.388,-1.02],[0.391,-1.1],[0.394,-1.16],[0.397,-1.19],[0.401,-1.19],[0.405,-1.18],[0.41,-1.15],[0.415,-1.12],[0.42,-1.09],[0.425,-1.065],[0.43,-1.045],[0.435,-1.025],[0.44,-1.01],[0.445,-1.0],[0.45,-0.985],[0.455,-0.94],[0.46,-0.86],[0.465,-0.77],[0.47,-0.705],[0.477,-0.675],[0.485,-0.68],[0.495,-0.7],[0.505,-0.705],[0.515,-0.705],[0.525,-0.7],[0.535,-0.685],[0.545,-0.67],[0.555,-0.665],[0.565,-0.665],[0.575,-0.67],[0.59,-0.68],[0.605,-0.69],[0.62,-0.705],[0.635,-0.72],[0.65,-0.735],[0.663,-0.75],[0.669,-0.71],[0.674,-0.61],[0.678,-0.5],[0.682,-0.41],[0.686,-0.31],[0.69,-0.28],[0.70,-0.27],[0.715,-0.25],[0.73,-0.23],[0.745,-0.21],[0.76,-0.19],[0.775,-0.175],[0.79,-0.155],[0.805,-0.135],[0.82,-0.12],[0.835,-0.1],[0.85,-0.08],[0.865,-0.06],[0.88,-0.04],[0.895,-0.015],[0.91,0.01],[0.925,0.035],[0.94,0.06],[0.955,0.09],[0.97,0.12],[0.99,0.185]];
var lowerNonShock10 = [[0.372,0.84],[0.374,0.65],[0.376,0.47],[0.378,0.32],[0.380,0.2],[0.382,0.11],[0.384,0.04],[0.387,-0.02],[0.390,-0.06],[0.393,-0.07],[0.397,-0.055],[0.401,-0.035],[0.406,-0.02],[0.412,-0.01],[0.42,-0.02],[0.43,-0.045],[0.44,-0.07],[0.45,-0.095],[0.465,-0.115],[0.48,-0.135],[0.495,-0.15],[0.51,-0.17],[0.525,-0.185],[0.54,-0.2],[0.555,-0.215],[0.57,-0.23],[0.585,-0.245],[0.60,-0.255],[0.615,-0.265],[0.63,-0.275],[0.645,-0.28],[0.66,-0.285],[0.675,-0.28],[0.69,-0.27],[0.705,-0.255],[0.72,-0.24],[0.735,-0.22],[0.75,-0.2],[0.765,-0.18],[0.78,-0.16],[0.795,-0.145],[0.81,-0.125],[0.825,-0.11],[0.84,-0.095],[0.855,-0.075],[0.87,-0.06],[0.885,-0.04],[0.90,-0.02],[0.915,0.005],[0.93,0.03],[0.945,0.065],[0.96,0.1],[0.975,0.15],[0.99,0.21],[0.99,0.14],[0.99,0.28]];
var upperNoBump10 = [[0.372,0.8],[0.376,0.05],[0.38,-0.5],[0.385,-0.88],[0.39,-1.08],[0.397,-1.19],[0.405,-1.18],[0.415,-1.12],[0.425,-1.065],[0.435,-1.025],[0.445,-1.0],[0.455,-0.94],[0.46,-0.86],[0.465,-0.69],[0.47,-0.57],[0.475,-0.55],[0.48,-0.55],[0.49,-0.565],[0.50,-0.58],[0.51,-0.585],[0.52,-0.595],[0.53,-0.605],[0.54,-0.615],[0.55,-0.625],[0.56,-0.635],[0.57,-0.645],[0.58,-0.655],[0.59,-0.665],[0.60,-0.675],[0.61,-0.685],[0.62,-0.695],[0.63,-0.705],[0.64,-0.72],[0.65,-0.735],[0.66,-0.775],[0.67,-0.78],[0.678,-0.72],[0.685,-0.58],[0.695,-0.375],[0.70,-0.285],[0.73,-0.23],[0.76,-0.19],[0.79,-0.155],[0.82,-0.12],[0.85,-0.08],[0.88,-0.04],[0.91,0.01],[0.94,0.06],[0.97,0.12],[0.99,0.185]];
var lowerNoBump10 = lowerNonShock10;

// x axis [min, max, step] per panel
var xRanges = [[0,0.9,0.1],[0,0.9,0.1],[0,0.9,0.1],[0.1,0.9,0.1],[0.1,0.9,0.1],
               [0.15,0.9,0.05],[0.15,0.9,0.05],[0.2,0.95,0.05],[0.25,0.95,0.05],[0.35,1,0.05]];
var yTicks = [-1.5, 1, 0.5];

var captions = [
    '{n|1}{s|st}{n| bump}',
    '{n|Between 1}{s|st}{n| and 2}{s|nd}{n| bump}',
    '{n|2}{s|nd}{n| bump}',
    '{n|Between 2}{s|nd}{n| and 3}{s|rd}{n| bump}',
    '{n|3}{s|rd}{n| bump}',
    '{n|Between 3}{s|rd}{n| and 4}{s|th}{n| bump}',
    '{n|4}{s|th}{n| bump}',
    '{n|Half bump width after 4}{s|th}{n| bump}',
    '{n|2 bump widths downstream}',
    '{n|4 bump widths downstream}'
];

var sets = [
    {un: upperNoBump1, ln: lowerNoBump1, us: upperNonShock1, ls: lowerNonShock1},
    {un: upperNoBump2, ln: lowerNoBump2, us: upperNonShock2, ls: lowerNonShock2},
    {un: upperNoBump3, ln: lowerNoBump3, us: upperNonShock3, ls: lowerNonShock3},
    {un: upperNoBump4, ln: lowerNoBump4, us: upperNonShock4, ls: lowerNonShock4},
    {un: upperNoBump5, ln: lowerNoBump5, us: upperNonShock5, ls: lowerNonShock5},
    {un: upperNoBump6, ln: lowerNoBump6, us: upperNonShock6, ls: lowerNonShock6},
    {un: upperNoBump7, ln: lowerNoBump7, us: upperNonShock7, ls: lowerNonShock7},
    {un: upperNoBump8, ln: lowerNoBump8, us: upperNonShock8, ls: lowerNonShock8},
    {un: upperNoBump9, ln: lowerNoBump9, us: upperNonShock9, ls: lowerNonShock9},
    {un: upperNoBump10, ln: lowerNoBump10, us: upperNonShock10, ls: lowerNonShock10}
];

// ---------------- layout
var W = 1274;
var colLeft = [7, 644];
var rowTop = [7, 361, 715, 1069, 1423];
var BLUE = '#0a0aff';
var XMARK = 'path://M0,1L1,0L5,4L9,0L10,1L6,5L10,9L9,10L5,6L1,10L0,9L4,5Z';

var NAMES = {un: 'Upper no bump', ln: 'Lower no bump', us: 'Upper non-shock', ls: 'Lower non-shock'};
var STYLE = {
    un: {symbol: XMARK, size: 7, color: '#e46a6a', icon: XMARK},
    ln: {symbol: XMARK, size: 7, color: '#5b80d8', icon: XMARK},
    us: {symbol: 'rect', size: 6, color: '#62a82a', icon: 'rect'},
    ls: {symbol: 'roundRect', size: 7, color: '#111111', icon: 'circle'}
};

function gridBox(i){
    var row = Math.floor(i / 2), col = i % 2;
    if(row < 4){
        return {left: colLeft[col] + 35, top: rowTop[row] + 22, width: col ? 567 : 569, height: 267};
    }
    if(col === 0) return {left: 42, top: 1443, width: 567, height: 267};
    return {left: 652, top: 1443, width: 571, height: 267};
}

var grids = [], xAxes = [], yAxes = [], legends = [], series = [], graphics = [];
var labelFont = {fontSize: 9, color: '#555', fontFamily: 'Liberation Sans'};

for(var i = 0; i < 10; i++){
    var g = gridBox(i);
    grids.push({left: g.left, top: g.top, width: g.width, height: g.height, containLabel: false});

    xAxes.push({
        gridIndex: i, type: 'value',
        min: xRanges[i][0], max: xRanges[i][1], interval: xRanges[i][2],
        axisLine: {show: true, onZero: false, lineStyle: {color: '#888', width: 1}},
        axisTick: {show: true, length: 3, lineStyle: {color: '#888'}},
        axisLabel: {margin: 4, fontSize: labelFont.fontSize, color: labelFont.color, fontFamily: labelFont.fontFamily},
        splitLine: {show: true, lineStyle: {color: '#ececec'}}
    });
    yAxes.push({
        gridIndex: i, type: 'value', inverse: true,
        min: yTicks[0], max: yTicks[1], interval: yTicks[2],
        axisLine: {show: true, onZero: false, lineStyle: {color: '#888', width: 1}},
        axisTick: {show: true, length: 3, lineStyle: {color: '#888'}},
        axisLabel: {margin: 4, fontSize: labelFont.fontSize, color: labelFont.color, fontFamily: labelFont.fontFamily},
        splitLine: {show: true, lineStyle: {color: '#ececec'}}
    });

    // first panel lists the non-shock runs first, the rest the reverse
    var order = i === 0 ? ['us', 'ls', 'un', 'ln'] : ['un', 'ln', 'us', 'ls'];
    for(var k = 0; k < order.length; k++){
        var key = order[k], st = STYLE[key];
        series.push({
            type: 'scatter', name: NAMES[key],
            xAxisIndex: i, yAxisIndex: i,
            data: sets[i][key],
            symbol: st.symbol, symbolSize: st.size,
            itemStyle: {color: st.color, opacity: 1},
            silent: true
        });
    }

    legends.push({
        orient: 'vertical',
        right: W - (g.left + g.width), top: g.top - 1,
        padding: [3, 9, 3, 8], itemGap: 2,
        itemWidth: 7, itemHeight: 7,
        borderColor: '#777', borderWidth: 1, backgroundColor: '#fff',
        selectedMode: false,
        textStyle: {fontSize: 10, color: '#444', fontFamily: 'Liberation Sans', lineHeight: 12},
        data: order.map(function(kk){ return {name: NAMES[kk], icon: STYLE[kk].icon}; })
    });

    // caption under each panel
    var row = Math.floor(i / 2), col = i % 2;
    var cx = row < 4 ? (col ? 957 : 320) : (col ? 932 : 321);
    var cy = row < 4 ? rowTop[row] + 341 : 1762;
    graphics.push({
        type: 'text', x: cx, y: cy, silent: true,
        style: {
            text: captions[i], align: 'center', verticalAlign: 'middle',
            textAlign: 'center', textVerticalAlign: 'middle',
            rich: {
                n: {fontFamily: 'DejaVu Serif', fontSize: 24, lineHeight: 28, fill: '#000', color: '#000'},
                s: {fontFamily: 'DejaVu Serif', fontStyle: 'italic', fontSize: 15, lineHeight: 15, verticalAlign: 'top', fill: '#000', color: '#000'}
            }
        }
    });
}

// blue frames
for(var r = 0; r < 4; r++){
    for(var c = 0; c < 2; c++){
        var w = c ? 624 : 626;
        graphics.push({type: 'rect', silent: true, z: 100,
            shape: {x: colLeft[c] + 2.5, y: rowTop[r] + 2.5, width: w - 5, height: 310},
            style: {fill: 'none', stroke: BLUE, lineWidth: 5}});
    }
}
graphics.push({type: 'rect', silent: true, z: 100,
    shape: {x: 9.5, y: rowTop[4] + 1.5, width: 1231, height: 309},
    style: {fill: 'none', stroke: BLUE, lineWidth: 5}});

var myChart = echarts.init(document.getElementById('chart'), null, {renderer: 'canvas'});
myChart.setOption({
    animation: false,
    backgroundColor: '#fff',
    grid: grids,
    xAxis: xAxes,
    yAxis: yAxes,
    legend: legends,
    series: series,
    graphic: graphics
});
</script>
</body>
</html>
